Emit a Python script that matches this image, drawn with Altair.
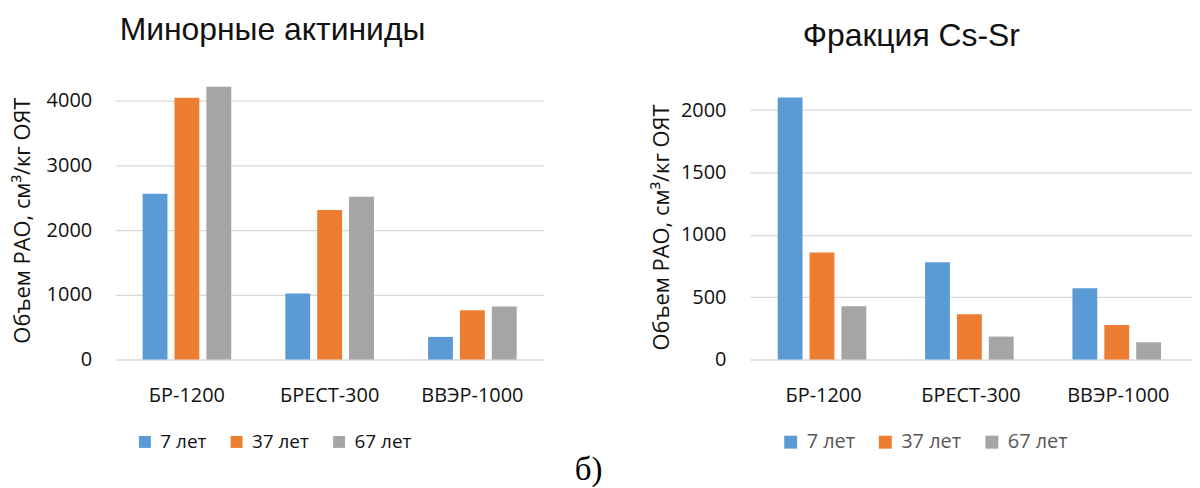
import altair as alt
import pandas as pd

reactors = ["БР-1200", "БРЕСТ-300", "ВВЭР-1000"]
periods = ["7 лет", "37 лет", "67 лет"]
colors = ["#5B9BD5", "#ED7D31", "#A5A5A5"]

# Минорные актиниды
ma_7 = [2560, 1020, 350]
ma_37 = [4045, 2312, 760]
ma_67 = [4215, 2515, 820]

# Фракция Cs-Sr
cs_7 = [2100, 780, 572]
cs_37 = [857, 362, 277]
cs_67 = [428, 184, 138]

ma_ticks = [0, 1000, 2000, 3000, 4000]
cs_ticks = [0, 500, 1000, 1500, 2000]

y_title = "Объем РАО, см³/кг ОЯТ"
FONT = "Open Sans"
TITLE_FONT = "Liberation Sans"


def make_df(s7, s37, s67):
    rows = []
    for series, name in zip([s7, s37, s67], periods):
        for r, v in zip(reactors, series):
            rows.append({"reactor": r, "period": name, "value": v})
    return pd.DataFrame(rows)


def panel(df, title, title_size, line_h, ymax, ticks, width, title_offset,
          title_dx, axis_title_pad, axis_title_y, legend_x, legend_color,
          legend_font, sym_size):
    return alt.Chart(df).mark_bar().encode(
        x=alt.X("reactor:N", sort=reactors,
                scale=alt.Scale(paddingInner=0.33, paddingOuter=0.165),
                axis=alt.Axis(title=None, labelAngle=0, labelFont=FONT,
                              labelFontSize=20, labelColor="#111111",
                              labelPadding=26, ticks=False, domain=True,
                              domainColor="#D9D9D9", grid=False)),
        xOffset=alt.XOffset("period:N", sort=periods,
                            scale=alt.Scale(paddingInner=0.22, paddingOuter=0.11)),
        y=alt.Y("value:Q",
                scale=alt.Scale(domain=[0, ymax], nice=False, zero=True),
                axis=alt.Axis(title=y_title, values=ticks, format="d",
                              labelFont=FONT, labelFontSize=20,
                              labelColor="#111111", labelPadding=24,
                              ticks=False, domain=False, grid=True,
                              gridColor="#D9D9D9", gridWidth=1.2,
                              titleFont=FONT, titleFontSize=22,
                              titleFontWeight="normal", titleColor="#111111",
                              titlePadding=axis_title_pad, titleY=axis_title_y)),
        color=alt.Color("period:N", sort=periods,
                        scale=alt.Scale(domain=periods, range=colors),
                        legend=alt.Legend(orient="none", legendX=legend_x,
                                          legendY=356, direction="horizontal",
                                          title=None, symbolType="square",
                                          symbolSize=sym_size, symbolStrokeWidth=0,
                                          labelFont=FONT, labelFontSize=legend_font,
                                          labelColor=legend_color,
                                          columnPadding=20, labelOffset=6)),
    ).properties(
        width=width, height=283,
        title=alt.TitleParams(title, font=TITLE_FONT, fontSize=title_size,
                              fontWeight="normal", color="#111111",
                              anchor="middle", frame="bounds",
                              lineHeight=line_h,
                              offset=title_offset, dx=title_dx),
    )


left = panel(make_df(ma_7, ma_37, ma_67), "Минорные актиниды", 32, 34, 4354,
             ma_ticks, 430, 31, -5, 12, 143, 20, "#111111", 19, 144)
right = panel(make_df(cs_7, cs_37, cs_67), [" ", "Фракция Cs-Sr"], 32, 5.7,
              2259, cs_ticks, 444, 25.3, -10, 7, 150, 31, "#595959", 20, 169)

chart = alt.hconcat(left, right, spacing=107).resolve_scale(
    color="independent"
).resolve_legend(color="independent").properties(
    title=alt.TitleParams("б)", orient="bottom", anchor="middle",
                          font="Liberation Serif", fontSize=33,
                          fontWeight="normal", color="black", dx=-13,
                          offset=2),
    padding={"left": 3, "top": 5, "right": 0, "bottom": 0},
    background="white",
).configure_view(strokeWidth=0, stroke=None)

chart.save("out.html", embed_options={"renderer": "svg", "actions": False})
